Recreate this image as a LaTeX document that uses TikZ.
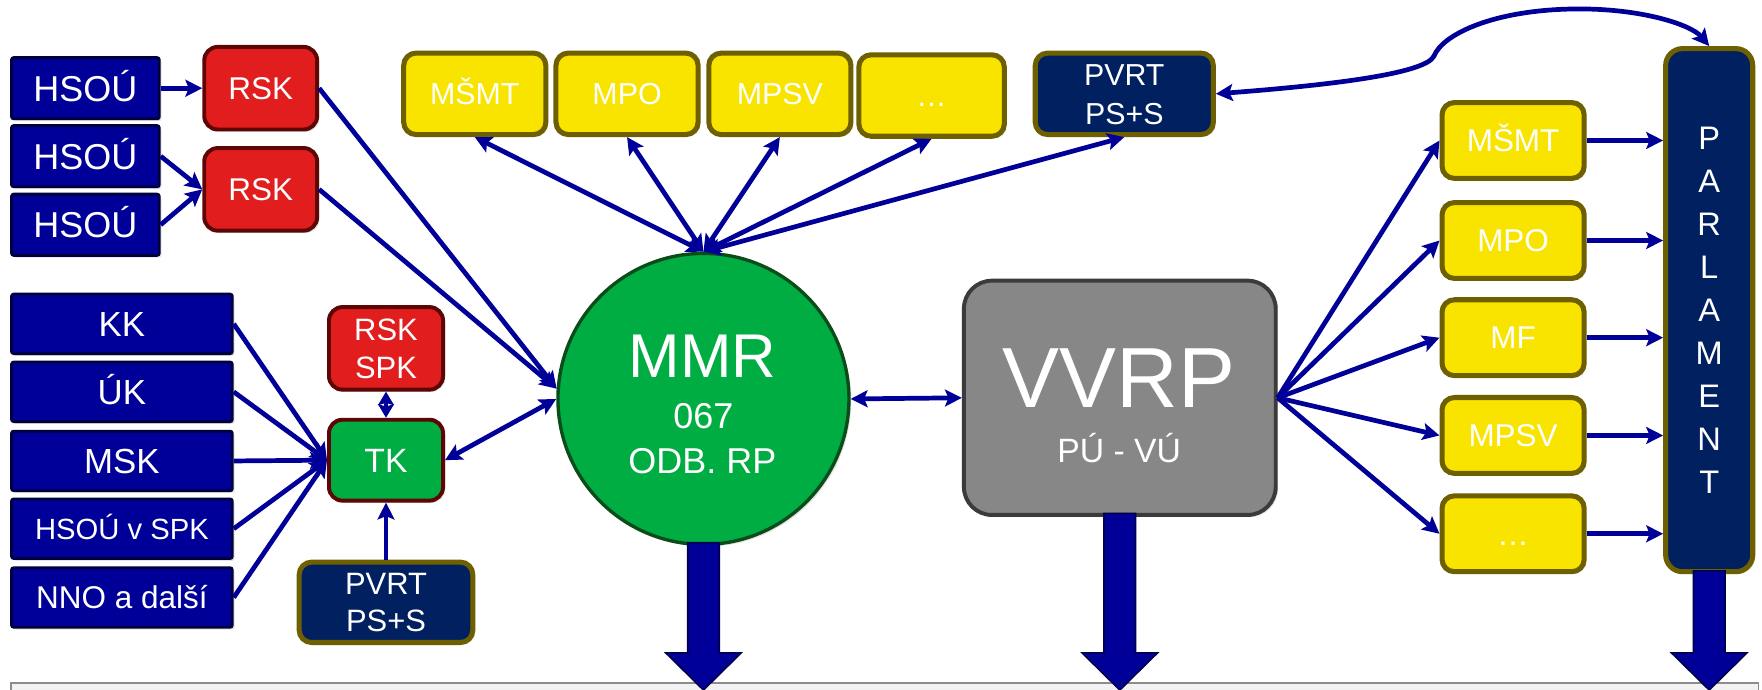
\documentclass[tikz,border=0pt]{standalone}
\usepackage{fontspec}
\setmainfont{Liberation Sans}
\usetikzlibrary{arrows.meta,calc,backgrounds,shadows}
\definecolor{navy}{HTML}{000099}
\definecolor{navyline}{HTML}{00003C}
\definecolor{redfill}{HTML}{E21D1D}
\definecolor{redline}{HTML}{5C0606}
\definecolor{greenfill}{HTML}{00AD42}
\definecolor{greenline}{HTML}{0B4D1A}
\definecolor{yelfill}{HTML}{F9E400}
\definecolor{oliveline}{HTML}{6E6000}
\definecolor{darkfill}{HTML}{002060}
\definecolor{grayfill}{HTML}{878787}
\definecolor{grayline}{HTML}{3B3B3B}
\definecolor{conncol}{HTML}{000099}
\definecolor{blockline}{HTML}{00004D}
\definecolor{barfill}{HTML}{F2F2F2}
\definecolor{barline}{HTML}{8C8C8C}
\newcommand\fsz[2]{\fontsize{#1}{#2}\selectfont}
\tikzset{
  arr/.tip={Stealth[length=15pt,width=15pt,inset=3pt]},
  sarr/.tip={Stealth[length=12pt,width=14pt,inset=2pt]}
}
\begin{document}
\begin{tikzpicture}[x=1pt,y=-1pt,
  box/.style={text=white, inner sep=0pt, align=center, text depth=0pt},
  shad/.style={drop shadow={opacity=0.22, shadow xshift=2pt, shadow yshift=-2pt}},
  navybox/.style={box, draw=navyline, fill=navy, line width=2.5pt, rounded corners=2pt, shad},
  lbox/.style={navybox, minimum width=196.5pt, minimum height=53pt},
  redbox/.style={box, draw=redline, fill=redfill, line width=3.5pt, rounded corners=12pt, minimum width=100.5pt, minimum height=73.5pt, shad},
  ybox/.style={box, draw=oliveline, fill=yelfill, line width=4.5pt, rounded corners=11pt, minimum width=126.5pt, minimum height=72.5pt, shad},
  darkbox/.style={box, draw=oliveline, fill=darkfill, line width=4.5pt, rounded corners=11pt, shad},
  txt/.style={text=white, inner sep=0pt, anchor=base},
  conn/.style={draw=conncol, line width=4.2pt, -{arr}},
  dconn/.style={draw=conncol, line width=4.2pt, {arr}-{arr}},
  blockarrow/.style={fill=conncol, draw=blockline, line width=1.5pt, line join=miter}
]
\useasboundingbox (0,0) rectangle (1568,614);

% left HSOU and RSK
\node[navybox, minimum width=131.5pt, minimum height=54.5pt, font=\fsz{32}{38}, text height=23pt] (h1) at (76,78.5) {HSOÚ};
\node[navybox, minimum width=131.5pt, minimum height=54.5pt, font=\fsz{32}{38}, text height=23pt] (h2) at (76,139) {HSOÚ};
\node[navybox, minimum width=131.5pt, minimum height=54.5pt, font=\fsz{32}{38}, text height=23pt] (h3) at (76,200) {HSOÚ};
\node[redbox, font=\fsz{28}{34}, text height=20pt] (rsk1) at (232,78.5) {RSK};
\node[redbox, font=\fsz{28}{34}, text height=20pt] (rsk2) at (232,168.5) {RSK};

% left column
\node[lbox, font=\fsz{31}{37}, text height=22.2pt] (kk) at (108.5,288.2) {KK};
\node[lbox, font=\fsz{31}{37}, text height=22.2pt] (uk) at (108.5,348.7) {ÚK};
\node[lbox, font=\fsz{31}{37}, text height=22.2pt] (msk) at (108.5,410.2) {MSK};
\node[lbox, font=\fsz{26}{31}, text height=18.6pt] (hv) at (108.5,470.5) {HSOÚ v SPK};
\node[lbox, font=\fsz{28}{34}, text height=20pt] (nno) at (108.5,531.7) {NNO a další};

\node[redbox, minimum width=101.5pt, font=\fsz{27.5}{34}, text height=53.7pt] (rskspk) at (343.5,310) {RSK\\SPK};
\node[box, draw=redline, fill=greenfill, line width=3.5pt, rounded corners=12pt, minimum width=101.5pt, minimum height=72pt, font=\fsz{30}{36}, text height=21.5pt, shad] (tk) at (343.5,409.5) {TK};
\node[darkbox, minimum width=154.5pt, minimum height=71.5pt, font=\fsz{27.5}{33}, text height=52.7pt] (pvrt1) at (343.5,536) {PVRT\\PS+S};

% top row
\node[ybox, font=\fsz{27}{33}, text height=19.3pt] (tm1) at (422.5,83.5) {MŠMT};
\node[ybox, font=\fsz{27}{33}, text height=19.3pt] (tm2) at (558,83.5) {MPO};
\node[ybox, font=\fsz{27}{33}, text height=19.3pt] (tm3) at (694,83.5) {MPSV};
\node[ybox, minimum width=129.5pt, font=\fsz{27}{33}, text height=19.3pt] (tm4) at (829,85) {…};
\node[darkbox, minimum width=158.5pt, minimum height=72.5pt, font=\fsz{27}{35}, text height=54.3pt] (pvrt2) at (1000.5,83.5) {PVRT\\PS+S};

% MMR
\node[circle, draw=greenline, fill=greenfill, line width=3pt, minimum size=259pt, inner sep=0pt, shad] (mmr) at (626,355) {};
\node[txt, font=\fsz{55}{60}] (mmrA) at (625,336) {MMR};
\node[txt, font=\fsz{32}{36}] (mmrB) at (626,381) {067};
\node[txt, font=\fsz{32}{36}] (mmrC) at (625,421) {ODB. RP};

% VVRP
\node[draw=grayline, fill=grayfill, line width=3.5pt, rounded corners=25pt, minimum width=277.5pt, minimum height=208.5pt, shad] (vvrp) at (996.5,354) {};
\node[txt, font=\fsz{76}{80}] (vvrpA) at (996,363) {VVRP};
\node[txt, font=\fsz{30}{34}] (vvrpB) at (996,412) {PÚ - VÚ};

% right column
\node[ybox, minimum height=67.5pt, font=\fsz{28}{34}, text height=20pt] (rm1) at (1346.5,125) {MŠMT};
\node[ybox, minimum height=67.5pt, font=\fsz{28}{34}, text height=20pt] (rm2) at (1346.5,214) {MPO};
\node[ybox, minimum height=67.5pt, font=\fsz{28}{34}, text height=20pt] (rm3) at (1346.5,300.5) {MF};
\node[ybox, minimum height=67.5pt, font=\fsz{28}{34}, text height=20pt] (rm4) at (1346.5,387.5) {MPSV};
\node[ybox, minimum height=67.5pt, font=\fsz{28}{34}, text height=20pt] (rm5) at (1346.5,475) {…};
\node[darkbox, minimum width=77.5pt, minimum height=465.5pt, rounded corners=15pt, font=\fsz{29}{38.3}, text height=327pt] (parl) at (1521,276) {P\\A\\R\\L\\A\\M\\E\\N\\T};

% background bar
\begin{scope}[on background layer]
\filldraw[fill=barfill, draw=barline, line width=1.5pt] (10,608) rectangle (1565,640);
\end{scope}

% connectors
\draw[conn] (h1.east) -- (rsk1.west);
\draw[conn] (h2.east) -- (rsk2.west);
\draw[conn] (h3.east) -- (rsk2.west);
\draw[conn] (rsk1.east) -- (mmr.176);
\draw[conn] (rsk2.east) -- (mmr.176);
\foreach \n in {kk,uk,msk,hv,nno} \draw[conn] (\n.east) -- (tk.west);
\draw[draw=conncol, line width=4.2pt, {sarr}-{sarr}] (rskspk.south) -- (tk.north);
\draw[conn] (pvrt1.north) -- (tk.south);
\draw[dconn] (tk.east) -- (mmr.west);
\foreach \n in {tm1,tm2,tm3,tm4,pvrt2} \draw[dconn] (mmr.north) -- (\n.south);
\draw[dconn] (mmr.east) -- (vvrp.west);
\foreach \n in {rm1,rm2,rm3,rm4,rm5} \draw[conn] (vvrp.east) -- (\n.west);
\foreach \n in {rm1,rm2,rm3,rm4,rm5} \draw[conn] (\n.east) -- (\n.east -| parl.west);
\draw[dconn] (pvrt2.east) .. controls (1180,76) and (1268,66) .. (1276,50)
  .. controls (1284,30) and (1330,9) .. (1400,8)
  .. controls (1460,7) and (1505,22) .. (parl.north);

% block arrows
\coordinate (tipA) at (mmr.south |- 0,614);
\coordinate (tipB) at (vvrp.south |- 0,614);
\coordinate (tipC) at (parl.south |- 0,614);
\foreach \s/\t in {mmr/tipA, vvrp/tipB, parl/tipC} {
  \draw[blockarrow] ([xshift=-14pt,yshift=3pt]\s.south) -- ([xshift=14pt,yshift=3pt]\s.south)
    -- ($(\t)+(14,-33)$) -- ($(\t)+(33.5,-33)$) -- (\t) -- ($(\t)+(-33.5,-33)$)
    -- ($(\t)+(-14,-33)$) -- cycle;
}
\end{tikzpicture}
\end{document}
